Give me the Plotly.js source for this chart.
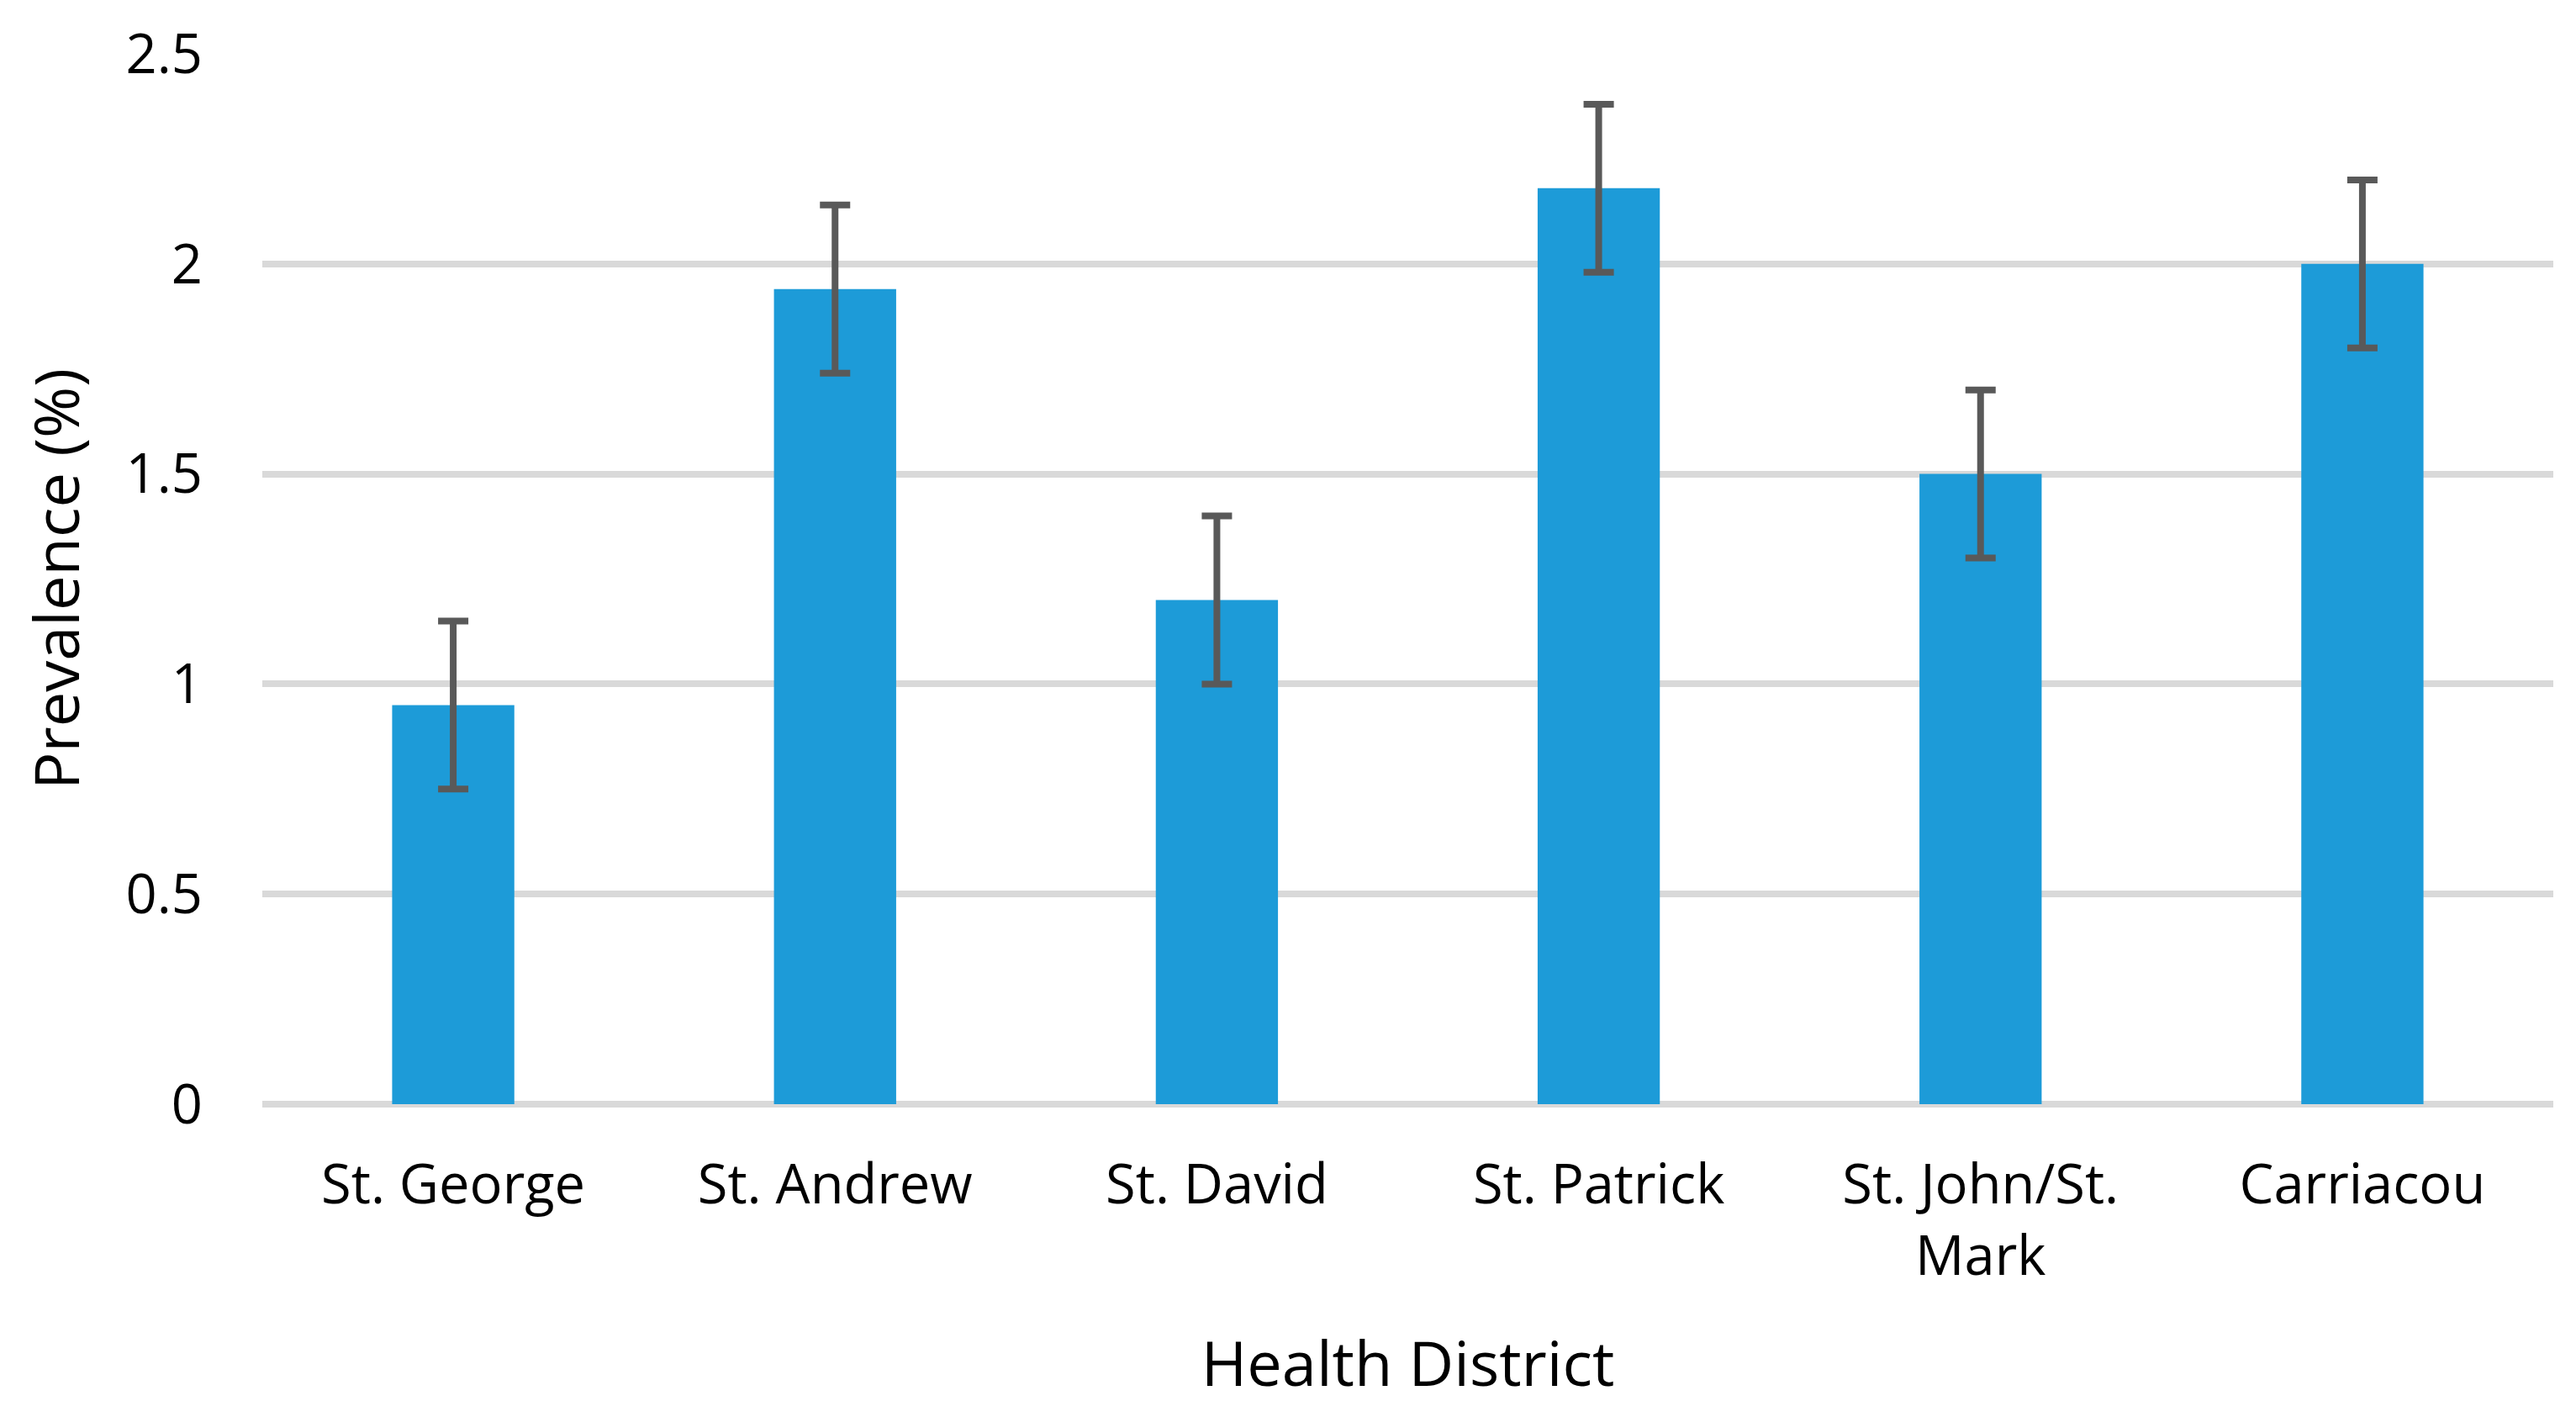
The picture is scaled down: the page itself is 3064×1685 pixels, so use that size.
<!DOCTYPE html>
<html>
<head>
<meta charset="utf-8">
<script src="https://cdn.plot.ly/plotly-3.0.1.min.js"></script>
<style>
html,body{margin:0;padding:0;background:#fff;}
#chart{width:3064px;height:1685px;}
</style>
</head>
<body>
<div id="chart"></div>
<script>
const districts = ["St. George", "St. Andrew", "St. David", "St. Patrick", "St. John/St.<br>Mark", "Carriacou"];
const prevalence = [0.95, 1.94, 1.2, 2.18, 1.5, 2.0];
const errorPlus = [0.2, 0.2, 0.2, 0.2, 0.2, 0.2];
const yTickVals = [0, 0.5, 1, 1.5, 2, 2.5];
const yTickText = ["0", "0.5", "1", "1.5", "2", "2.5"];

const trace = {
  type: "bar",
  x: districts,
  y: prevalence,
  marker: {color: "#1d9bd8", line: {width: 0}},
  error_y: {type: "data", array: errorPlus, visible: true, color: "#595959", thickness: 8, width: 18},
  hoverinfo: "skip"
};

const layout = {
  width: 3064,
  height: 1685,
  margin: {l: 312, r: 27, t: 64, b: 372},
  paper_bgcolor: "#ffffff",
  plot_bgcolor: "#ffffff",
  showlegend: false,
  bargap: 0.68,
  font: {family: "Open Sans, Noto Sans, sans-serif", color: "#000000", size: 65},
  xaxis: {
    type: "category",
    showgrid: false,
    showline: false,
    ticks: "",
    ticklabelstandoff: 52,
    tickfont: {size: 65, color: "#000000"},
    title: {text: "Health District", font: {size: 74, color: "#000000"}, standoff: 62},
    automargin: false
  },
  yaxis: {
    range: [0, 2.5],
    tickvals: yTickVals,
    ticktext: yTickText,
    showgrid: true,
    gridcolor: "#d9d9d9",
    gridwidth: 8,
    zeroline: true,
    zerolinecolor: "#d9d9d9",
    zerolinewidth: 8,
    showline: false,
    ticks: "",
    ticklabelstandoff: 70,
    tickfont: {size: 65, color: "#000000"},
    title: {text: "Prevalence (%)", font: {size: 74, color: "#000000"}, standoff: 30},
    automargin: false
  }
};

Plotly.newPlot("chart", [trace], layout, {displayModeBar: false, staticPlot: true});
</script>
</body>
</html>
